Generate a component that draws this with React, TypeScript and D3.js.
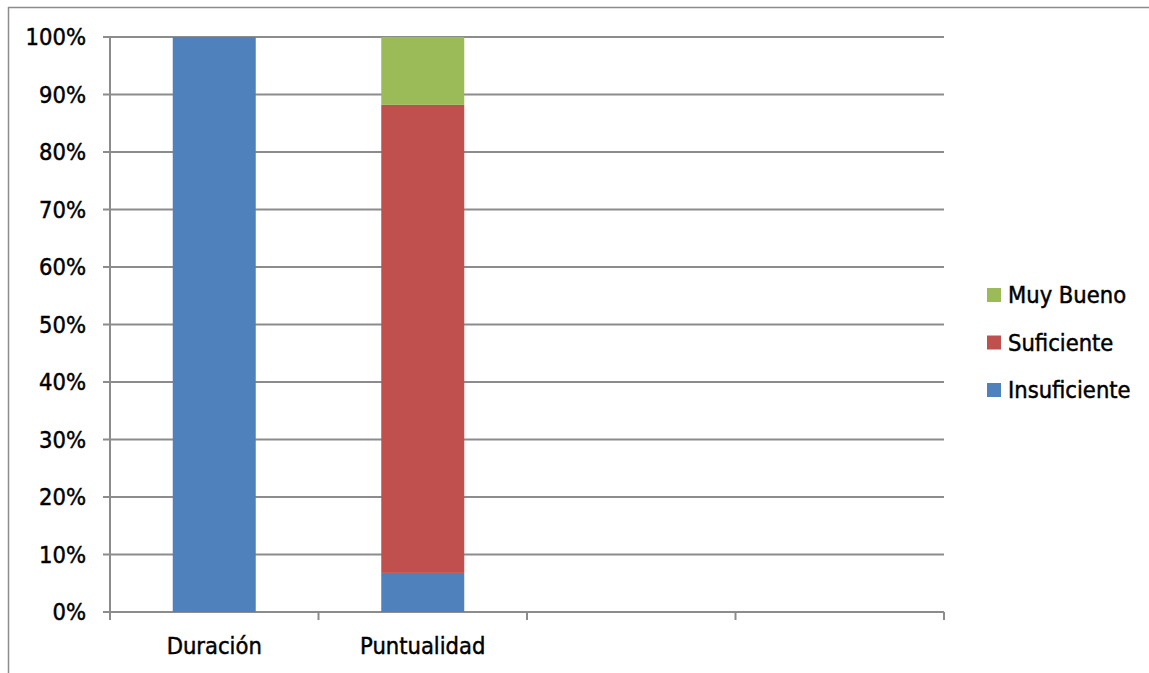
import React from "react";
import * as d3 from "d3";

const categories = ["Duración", "Puntualidad", "", ""];
const seriesNames = ["Insuficiente", "Suficiente", "Muy Bueno"];
const insuficiente = [100, 6.8, 0, 0];
const suficiente = [0, 81.4, 0, 0];
const muyBueno = [0, 11.8, 0, 0];
const yTicks = [0, 10, 20, 30, 40, 50, 60, 70, 80, 90, 100];
const colors = ["#4F81BD", "#C0504D", "#9BBB59"];

const W = 1149;
const H = 673;
const FONT = "'DejaVu Sans Condensed', 'Open Sans', sans-serif";
const FS = 23.5;

// Slight outline gives the labels a medium weight
const textStyle = { fontFamily: FONT, fontSize: FS, fill: "#000", stroke: "#000", strokeWidth: 0.45 };

export default function App() {
  const xBand = d3.scaleBand().domain(categories.map((c, i) => String(i))).range([110, 944]);
  const y = d3.scaleLinear().domain([0, 100]).range([612, 37]);

  const rows = categories.map((c, i) => ({
    key: String(i),
    Insuficiente: insuficiente[i],
    Suficiente: suficiente[i],
    "Muy Bueno": muyBueno[i],
  }));
  const stacked = d3.stack<any>().keys(seriesNames)(rows);

  const barW = 83;

  return (
    <svg width={W} height={H} style={{ position: "absolute", left: 0, top: 0 }}>
      <rect x={0} y={0} width={W} height={H} fill="#fff" />
      <line x1={8} x2={W} y1={7.5} y2={7.5} stroke="#8c8c8c" strokeWidth={1.5} />
      <line x1={8.5} x2={8.5} y1={7} y2={H} stroke="#8c8c8c" strokeWidth={1.5} />
      {yTicks.map((t) => (
        <g key={t}>
          <line x1={103} x2={944} y1={y(t)} y2={y(t)} stroke="#8c8c8c" strokeWidth={2} />
          <text x={86} y={y(t) + 8} textAnchor="end" style={textStyle}>
            {t}%
          </text>
        </g>
      ))}
      <line x1={110} x2={110} y1={37} y2={612} stroke="#8c8c8c" strokeWidth={2} />
      {d3.range(categories.length + 1).map((i) => {
        const xx = i < categories.length ? xBand(String(i))! : 944;
        return <line key={i} x1={xx} x2={xx} y1={612} y2={620} stroke="#8c8c8c" strokeWidth={2} />;
      })}
      {stacked.map((s, si) => (
        <g key={s.key} fill={colors[si]}>
          {s.map((d, i) => {
            const h = y(d[0]) - y(d[1]);
            if (h <= 0) return null;
            const cx = xBand(String(i))! + xBand.bandwidth() / 2;
            return <rect key={i} x={cx - barW / 2} y={y(d[1])} width={barW} height={h} />;
          })}
        </g>
      ))}
      {categories.map((c, i) => (
        <text key={i} x={xBand(String(i))! + xBand.bandwidth() / 2} y={654} textAnchor="middle" style={textStyle}>
          {c}
        </text>
      ))}
      {[...seriesNames].reverse().map((n, i) => {
        const idx = seriesNames.length - 1 - i;
        const cy = 295 + i * 47.5;
        return (
          <g key={n}>
            <rect x={987} y={cy - 7} width={14} height={14} fill={colors[idx]} />
            <text x={1008} y={cy + 8} style={textStyle}>
              {n}
            </text>
          </g>
        );
      })}
    </svg>
  );
}
